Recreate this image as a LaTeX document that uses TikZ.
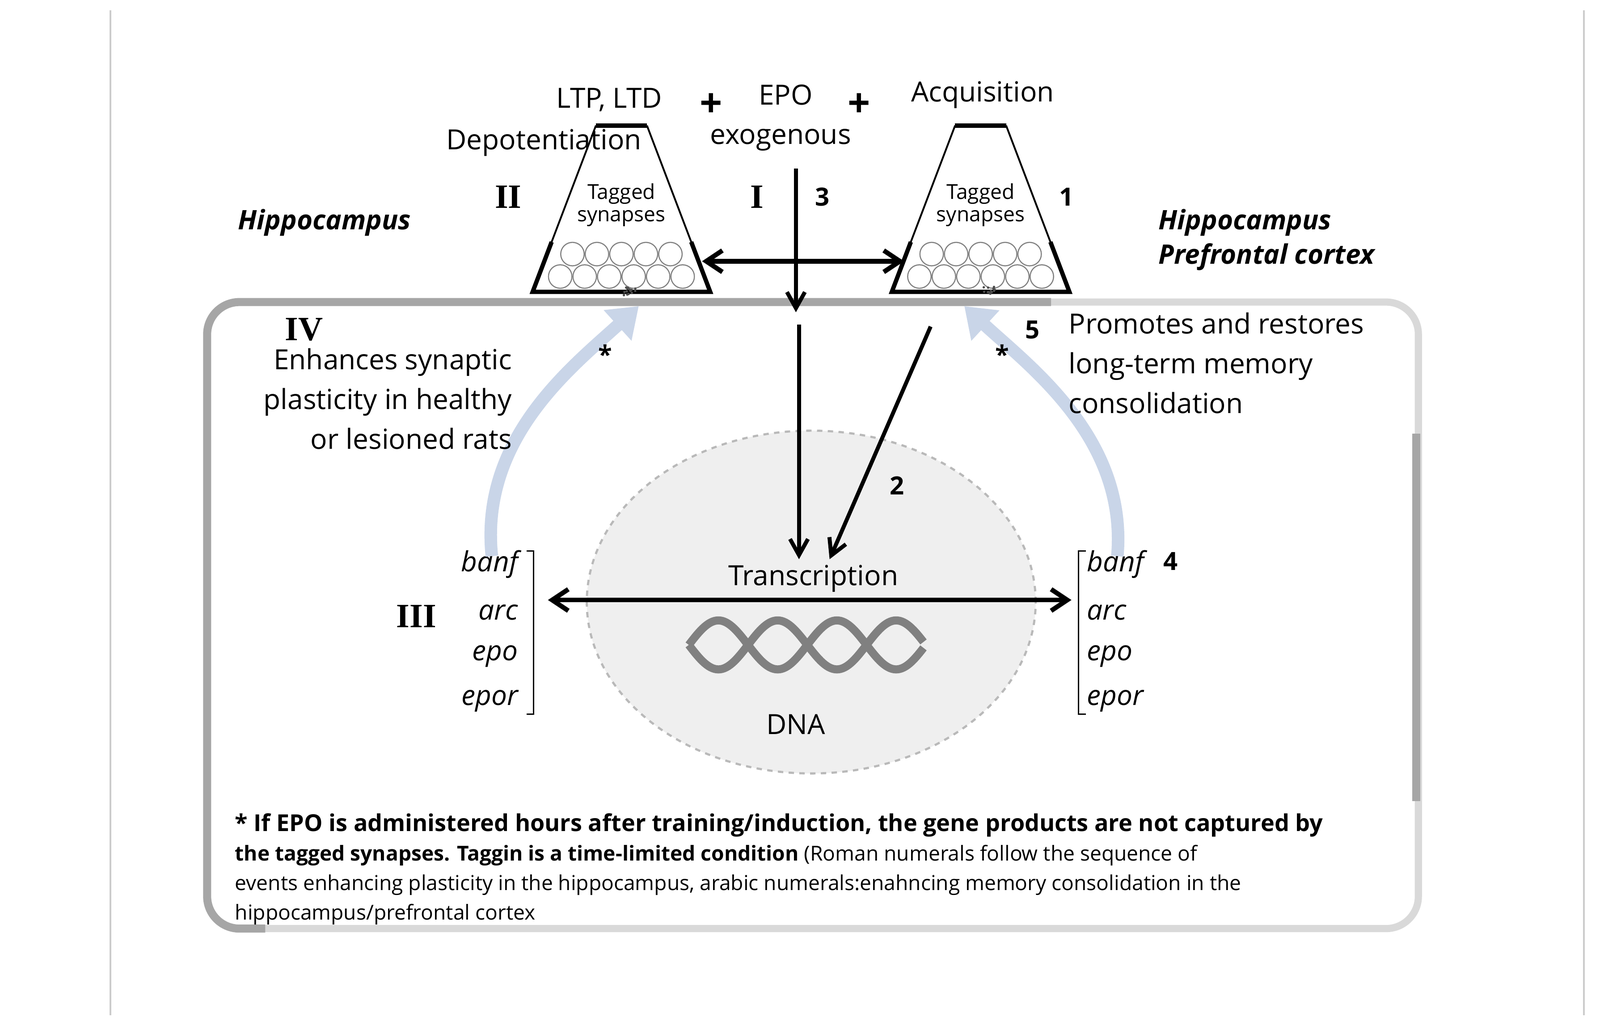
\documentclass[tikz,border=0pt]{standalone}
\usepackage{fontspec}
\setmainfont{Open Sans}
\newfontfamily\rmn{Liberation Serif}
\usetikzlibrary{arrows.meta,calc}
\definecolor{boxd}{HTML}{A6A6A6}
\definecolor{boxl}{HTML}{D9D9D9}
\definecolor{blu}{HTML}{C9D5E8}
\definecolor{nuc}{HTML}{EFEFEF}
\begin{document}
\begin{tikzpicture}[x=0.02cm,y=-0.02cm,
  lab/.style={font=\fontsize{15.5}{18}\selectfont,inner sep=0pt},
  tag/.style={font=\fontsize{11.5}{12.5}\selectfont,inner sep=0pt,align=center},
  num/.style={font=\fontsize{14}{15}\selectfont\bfseries,inner sep=0pt},
  rom/.style={font=\fontsize{19}{20}\selectfont\rmn\bfseries,inner sep=0pt},
  gene/.style={font=\fontsize{15.5}{16}\selectfont\itshape,inner sep=0pt},
  blk/.style={line width=2.2pt,-{Straight Barb[length=9pt,width=10pt,line width=2.2pt]}},
  dbl/.style={line width=2.6pt,{Straight Barb[length=9pt,width=12pt,line width=2.6pt]}-{Straight Barb[length=9pt,width=12pt,line width=2.6pt]}},
  bluarr/.style={blu,line width=7pt,-{Triangle[length=16pt,width=22pt]}}]
\useasboundingbox (0,0) rectangle (1568,1009);
% page
\fill[white] (0,0) rectangle (1568,1009);
\draw[gray!40,line width=1pt] (108,10) -- (108,995);
\draw[gray!40,line width=1pt] (1552,10) -- (1552,995);
% big box
\draw[boxl,line width=4pt,rounded corners=18] (203,296) rectangle (1390,910);
\draw[boxd,line width=4.5pt,rounded corners=18] (1030,296) -- (203,296) -- (203,910) -- (260,910);
\draw[boxd,line width=4.5pt] (1388,425) -- (1388,785);
% nucleus
\fill[nuc] (795,590) ellipse [x radius=4.4cm,y radius=3.36cm];
\draw[gray!55,dashed,line width=1.2pt] (795,590) ellipse [x radius=4.4cm,y radius=3.36cm];
% DNA
\draw[gray,line width=4.5pt,domain=675:905,samples=120] plot (\x,{632+24*sin(3.1*(\x-675))});
\draw[gray,line width=4.5pt,domain=675:905,samples=120] plot (\x,{632-24*sin(3.1*(\x-675))});
% trapezoids
\foreach \cx/\n in {609/L,961/R}{
  \coordinate (\n tl) at (\cx-25,123);
  \coordinate (\n tr) at (\cx+25,123);
  \coordinate (\n bl) at (\cx-87,286);
  \coordinate (\n br) at (\cx+87,286);
  \draw[line width=1pt] (\n tl) -- (\n bl);
  \draw[line width=1pt] (\n tr) -- (\n br);
  \draw[line width=2.4pt] (\n tl) -- (\n tr);
  \draw[line width=2.4pt] ($(\n tl)!0.7!(\n bl)$) -- (\n bl) -- (\n br) -- ($(\n tr)!0.7!(\n br)$);
  \foreach \i in {-2,...,2} \draw[gray,line width=0.6pt] (\cx+\i*24,249) circle (11.5);
  \foreach \i in {-2.5,-1.5,...,2.5} \draw[gray,line width=0.6pt] (\cx+\i*24,271) circle (11.5);
  \foreach \k in {1,...,14} \fill[black!70] (\cx+8+rnd*12-6,285+rnd*10-5) circle (1.2);
  \node[tag] at (\cx,201) {Tagged\\synapses};
}
% top labels
\node[lab] (ltp) at (597,98) {LTP, LTD};
\node[lab] at (533,140) {Depotentiation};
\node[font=\fontsize{22}{22}\selectfont\bfseries] at (697,103) {+};
\node[font=\fontsize{22}{22}\selectfont\bfseries] at (842,103) {+};
\node[lab] at (770,93) {EPO};
\node[lab] (exo) at (765,137) {exogenous};
\node[lab] at (963,93) {Acquisition};
\node[rom] at (498,193) {II};
\node[rom] at (742,193) {I};
\node[num] at (806,193) {3};
\node[num] at (1045,193) {1};
\node[font=\fontsize{15}{17}\selectfont\bfseries\itshape,inner sep=0pt] at (318,218) {Hippocampus};
\node[font=\fontsize{15}{17}\selectfont\bfseries\itshape,inner sep=0pt,anchor=west,align=left] at (1135,235) {Hippocampus\\[2pt]Prefrontal cortex};
% arrows top
\coordinate (a1) at (688,256); \coordinate (a2) at (886,256);
\draw[dbl] (a1) -- (a2);
\coordinate (v1) at (780,165); \coordinate (v2) at (780,306);
\draw[blk] (v1) -- (v2);
% inner arrows
\coordinate (t1) at (783,318); \coordinate (t2) at (783,548);
\draw[blk] (t1) -- (t2);
\coordinate (s1) at (912,320); \coordinate (s2) at (813,548);
\draw[blk] (s1) -- (s2);
\node[num] at (879,476) {2};
\node[lab] at (797,567) {Transcription};
\coordinate (h1) at (537,588); \coordinate (h2) at (1050,588);
\draw[dbl] (h1) -- (h2);
\node[lab] at (780,710) {DNA};
% gene lists
\foreach \g/\y in {bdnf/553,arc/600,epo/643,epor/687}{
  \node[gene,anchor=east] at (508,\y) {\g};
  \node[gene,anchor=west] at (1065,\y) {\g};
}
\draw[line width=0.8pt] (516,540) -- (523,540) -- (523,700) -- (516,700);
\draw[line width=0.8pt] (1064,540) -- (1057,540) -- (1057,700) -- (1064,700);
\node[num] at (1147,550) {4};
\node[rom] at (408,604) {III};
% blue arrows
\coordinate (b1) at (482,545); \coordinate (b2) at (626,300);
\draw[bluarr] (b1) .. controls (470,430) and (560,360) .. (b2);
\coordinate (c1) at (1095,545); \coordinate (c2) at (945,300);
\draw[bluarr] (c1) .. controls (1105,430) and (1010,360) .. (c2);
\node[font=\fontsize{14}{14}\selectfont\bfseries] at (593,347) {*};
\node[font=\fontsize{14}{14}\selectfont\bfseries] at (982,347) {*};
% side texts
\node[rom] at (298,323) {IV};
\node[lab,anchor=north east,align=right,font=\fontsize{15.5}{22.2}\selectfont] at (502,341) {Enhances synaptic\\plasticity in healthy\\or lesioned rats};
\node[num] at (1012,323) {5};
\node[lab,anchor=north west,align=left,font=\fontsize{15.5}{22.2}\selectfont] at (1047,306) {Promotes and restores\\long-term memory\\consolidation};
% footnote
\node[anchor=north west,inner sep=0pt,align=left,font=\fontsize{11.5}{16.4}\selectfont] at (230,797)
{\fontsize{13}{16.4}\selectfont\bfseries * If EPO is administered hours after training/induction, the gene products are not captured by\\
\bfseries the tagged synapses. Taggin is a time-limited condition \mdseries\fontsize{11.5}{16.4}\selectfont(Roman numerals follow the sequence of\\
events enhancing plasticity in the hippocampus, arabic numerals:enahncing memory consolidation in the\\
hippocampus/prefrontal cortex};
\end{tikzpicture}
\end{document}
